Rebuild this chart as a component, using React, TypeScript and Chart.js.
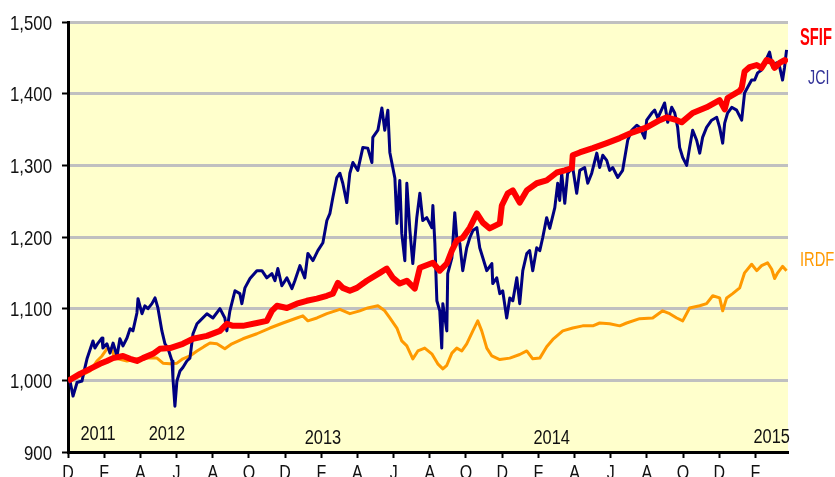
import React, { useEffect, useRef } from 'react';
import { Chart, registerables } from 'chart.js';

Chart.register(...registerables);

const FONT = "'Liberation Sans', Arial, sans-serif";

// x axis: months since first tick (Dec), a tick every 2 months
const monthTickPositions = [0, 2, 4, 6, 8, 10, 12, 14, 16, 18, 20, 22, 24, 26, 28, 30, 32, 34, 36, 38];
const monthTickLetters = ['D', 'F', 'A', 'J', 'A', 'O', 'D', 'F', 'A', 'J', 'A', 'O', 'D', 'F', 'A', 'J', 'A', 'O', 'D', 'F'];
const yTickValues = [900, 1000, 1100, 1200, 1300, 1400, 1500];

const yearLabels = ['2011', '2012', '2013', '2014', '2015'];
const yearLabelMonths = [1.66, 5.47, 14.09, 26.74, 38.9];
const yearLabelValues = [927, 927, 921, 921, 922];

const seriesNames = ['SFIF', 'JCI', 'IRDFI'];

const jciMonths = [
  0, 0.11, 0.28, 0.5, 0.77, 0.94, 1.05, 1.38, 1.49, 1.66, 1.88, 1.93, 2.15, 2.32, 2.49, 2.71, 2.87, 3.04, 3.26, 3.43,
  3.59, 3.81, 3.87, 4.09, 4.25, 4.42, 4.64, 4.81, 4.97, 5.19, 5.36, 5.52, 5.75, 5.8, 5.91, 6.02, 6.19, 6.35, 6.57, 6.74,
  6.91, 7.13, 7.29, 7.68, 8.01, 8.4, 8.67, 8.78, 8.95, 9.23, 9.5, 9.61, 9.78, 10.06, 10.44, 10.72, 10.99, 11.27, 11.44, 11.6,
  11.82, 12.1, 12.38, 12.54, 12.82, 13.09, 13.26, 13.54, 13.81, 14.09, 14.31, 14.48, 14.64, 14.86, 15.03, 15.19, 15.41, 15.58, 15.75, 16.02,
  16.3, 16.57, 16.8, 16.85, 17.13, 17.35, 17.51, 17.68, 17.79, 18.07, 18.18, 18.34, 18.45, 18.62, 18.73, 18.9, 19.06, 19.28, 19.45, 19.61,
  19.83, 20.11, 20.17, 20.28, 20.39, 20.55, 20.66, 20.72, 20.94, 20.99, 21.22, 21.38, 21.49, 21.66, 21.82, 22.04, 22.21, 22.38, 22.6, 22.76,
  22.93, 23.15, 23.43, 23.48, 23.7, 23.87, 24.03, 24.25, 24.42, 24.59, 24.81, 24.97, 25.14, 25.36, 25.52, 25.69, 25.91, 26.08, 26.24, 26.46,
  26.63, 26.91, 27.07, 27.18, 27.29, 27.46, 27.62, 27.9, 28.12, 28.29, 28.56, 28.73, 28.95, 29.23, 29.39, 29.56, 29.78, 29.94, 30.11, 30.39,
  30.66, 30.94, 31.16, 31.44, 31.6, 31.88, 31.99, 32.27, 32.43, 32.6, 32.87, 32.98, 33.15, 33.37, 33.54, 33.7, 33.81, 33.98, 34.2, 34.36,
  34.53, 34.75, 34.92, 35.08, 35.3, 35.58, 35.86, 36.02, 36.19, 36.3, 36.46, 36.69, 36.96, 37.24, 37.4, 37.57, 37.79, 37.96, 38.12, 38.34,
  38.51, 38.78, 38.95, 39.17, 39.34, 39.5, 39.61, 39.72,
];
const jciValues = [
  999, 999, 978, 997, 999, 1018, 1030, 1055, 1045, 1052, 1059, 1045, 1051, 1038, 1052, 1034, 1058, 1048, 1059, 1072,
  1069, 1094, 1114, 1093, 1104, 1100, 1107, 1115, 1101, 1069, 1051, 1045, 1027, 1003, 964, 999, 1013, 1018, 1027, 1031,
  1065, 1079, 1083, 1093, 1087, 1100, 1087, 1069, 1097, 1125, 1121, 1107, 1129, 1142, 1153, 1153, 1143, 1149, 1139, 1156,
  1132, 1143, 1128, 1139, 1160, 1143, 1177, 1167, 1181, 1192, 1223, 1233, 1255, 1283, 1289, 1275, 1248, 1289, 1304, 1293,
  1325, 1324, 1304, 1339, 1349, 1380, 1349, 1377, 1318, 1282, 1219, 1279, 1205, 1167, 1275, 1209, 1163, 1227, 1261, 1223,
  1227, 1213, 1244, 1191, 1111, 1097, 1045, 1107, 1069, 1149, 1171, 1234, 1199, 1191, 1153, 1185, 1199, 1209, 1213, 1185,
  1171, 1153, 1163, 1135, 1143, 1121, 1125, 1087, 1115, 1111, 1143, 1107, 1153, 1177, 1181, 1153, 1185, 1181, 1199, 1227,
  1212, 1241, 1275, 1251, 1289, 1247, 1289, 1297, 1261, 1293, 1297, 1275, 1289, 1317, 1297, 1314, 1307, 1293, 1297, 1283,
  1293, 1335, 1349, 1356, 1353, 1338, 1363, 1373, 1377, 1366, 1381, 1387, 1360, 1381, 1373, 1353, 1325, 1311, 1300, 1325,
  1349, 1335, 1317, 1339, 1353, 1363, 1367, 1353, 1331, 1359, 1373, 1381, 1377, 1363, 1401, 1409, 1419, 1419, 1429, 1433,
  1443, 1458, 1437, 1443, 1437, 1419, 1437, 1461,
];

const sfifMonths = [
  0, 0.66, 1.22, 1.77, 2.15, 2.49, 3.04, 3.43, 3.81, 4.14, 4.7, 5.08, 5.64, 6.35, 6.91, 7.68, 8.4, 8.78, 9.12, 9.67,
  10.44, 10.99, 11.27, 11.55, 12.1, 12.65, 13.2, 13.76, 14.31, 14.64, 14.92, 15.19, 15.58, 15.97, 16.52, 17.24, 17.62, 17.96, 18.34, 18.73,
  19.17, 19.45, 20.17, 20.55, 20.94, 21.22, 21.49, 21.82, 22.21, 22.6, 22.93, 23.31, 23.87, 23.98, 24.31, 24.59, 24.97, 25.36, 25.91, 26.46,
  27.02, 27.46, 27.85, 27.9, 28.29, 29.01, 29.78, 30.5, 31.22, 31.99, 32.71, 33.1, 33.65, 33.92, 34.53, 35.3, 36.02, 36.3, 36.46, 37.13,
  37.24, 37.4, 37.68, 38.07, 38.34, 38.62, 38.9, 39.06, 39.34, 39.61, 39.78,
];
const sfifValues = [
  999, 1009, 1016, 1023, 1027, 1031, 1034, 1030, 1027, 1031, 1037, 1044, 1045, 1051, 1058, 1062, 1069, 1079, 1076, 1076,
  1080, 1083, 1097, 1104, 1101, 1107, 1111, 1114, 1118, 1121, 1136, 1129, 1125, 1129, 1139, 1150, 1156, 1143, 1135, 1139,
  1128, 1157, 1164, 1153, 1163, 1181, 1195, 1199, 1213, 1233, 1220, 1212, 1219, 1244, 1261, 1265, 1248, 1265, 1275, 1279,
  1290, 1293, 1296, 1314, 1318, 1324, 1331, 1338, 1346, 1353, 1363, 1367, 1363, 1360, 1373, 1381, 1391, 1378, 1394, 1404,
  1408, 1431, 1437, 1440, 1436, 1447, 1444, 1436, 1443, 1447, 1444,
];

const irdfiMonths = [
  0, 0.66, 1.22, 1.6, 1.88, 2.15, 2.43, 2.54, 2.76, 3.26, 3.81, 4.36, 4.92, 5.25, 5.64, 6.02, 6.35, 6.74, 7.13, 7.51,
  7.85, 8.23, 8.67, 9.06, 9.67, 10.44, 11.16, 11.88, 12.65, 12.98, 13.26, 13.76, 14.31, 15.03, 15.58, 16.13, 16.57, 17.13, 17.51, 17.79,
  18.18, 18.45, 18.73, 19.06, 19.34, 19.72, 20.11, 20.44, 20.72, 20.94, 21.22, 21.49, 21.77, 22.04, 22.38, 22.65, 22.87, 23.15, 23.43, 23.87,
  24.42, 24.97, 25.36, 25.69, 26.08, 26.46, 26.8, 27.35, 27.9, 28.45, 29.01, 29.39, 29.94, 30.5, 30.88, 31.6, 32.32, 32.87, 33.26, 33.65,
  33.98, 34.36, 34.92, 35.3, 35.64, 36.02, 36.19, 36.41, 36.74, 37.13, 37.4, 37.79, 38.07, 38.34, 38.67, 38.9, 39.06, 39.23, 39.5, 39.72,
];
const irdfiValues = [
  999, 1006, 1013, 1027, 1034, 1044, 1044, 1034, 1030, 1027, 1030, 1031, 1031, 1024, 1023, 1024, 1030, 1034, 1041, 1047,
  1052, 1051, 1044, 1051, 1058, 1065, 1073, 1080, 1087, 1090, 1083, 1087, 1093, 1099, 1093, 1097, 1101, 1104, 1097, 1087,
  1073, 1055, 1048, 1030, 1041, 1045, 1037, 1023, 1016, 1021, 1038, 1045, 1041, 1051, 1069, 1083, 1069, 1045, 1034, 1029,
  1031, 1036, 1041, 1030, 1031, 1047, 1057, 1069, 1073, 1076, 1076, 1080, 1079, 1076, 1080, 1086, 1087, 1097, 1093, 1087,
  1083, 1101, 1104, 1107, 1118, 1115, 1097, 1115, 1121, 1129, 1150, 1162, 1153, 1160, 1164, 1155, 1142, 1150, 1159, 1153,
];

const seriesColors = ['#FF0000', '#000080', '#FF9900'];

const toPoints = (xs: number[], ys: number[]) => xs.map((x, i) => ({ x, y: ys[i] }));

// draw horizontally condensed text (imitating a condensed typeface)
function condensedText(ctx: any, text: string, x: number, y: number, sx: number, align: string) {
  ctx.save();
  ctx.translate(x, y);
  ctx.scale(sx, 1);
  ctx.textAlign = align;
  ctx.textBaseline = 'alphabetic';
  ctx.fillText(text, 0, 0);
  ctx.restore();
}

const backgroundPlugin = {
  id: 'plotBackground',
  beforeDraw(chart: any) {
    const { ctx, chartArea } = chart;
    ctx.save();
    ctx.fillStyle = '#FFFFCC';
    ctx.fillRect(chartArea.left, chartArea.top, chartArea.right - chartArea.left, chartArea.bottom - chartArea.top);
    ctx.restore();
  },
};

const textPlugin = {
  id: 'annotations',
  afterDraw(chart: any) {
    const { ctx, scales, chartArea } = chart;
    const xs = scales.x;
    const ys = scales.y;
    ctx.save();
    ctx.fillStyle = '#111111';

    // y tick labels
    ctx.font = `21px ${FONT}`;
    yTickValues.forEach((v) => {
      condensedText(ctx, v.toLocaleString('en-US'), chartArea.left - 16, ys.getPixelForValue(v) + 7.5, 0.8, 'right');
    });

    // x tick labels (month initials)
    ctx.font = `20px ${FONT}`;
    monthTickPositions.forEach((m, i) => {
      condensedText(ctx, monthTickLetters[i], xs.getPixelForValue(m), chartArea.bottom + 27, 0.8, 'center');
    });

    // year labels inside the plot
    ctx.font = `20px ${FONT}`;
    yearLabels.forEach((t, i) => {
      condensedText(ctx, t, xs.getPixelForValue(yearLabelMonths[i]), ys.getPixelForValue(yearLabelValues[i]) + 7, 0.82, 'center');
    });

    // series names at the right
    const lx = chartArea.right + 12;
    ctx.font = `bold 23px ${FONT}`;
    ctx.fillStyle = seriesColors[0];
    condensedText(ctx, seriesNames[0], lx, 45, 0.64, 'left');
    ctx.font = `21px ${FONT}`;
    ctx.fillStyle = '#333399';
    condensedText(ctx, seriesNames[1], lx + 8, 84, 0.68, 'left');
    ctx.fillStyle = seriesColors[2];
    condensedText(ctx, seriesNames[2], lx, 266, 0.7, 'left');
    ctx.restore();
  },
};

export default function App() {
  const ref = useRef<HTMLCanvasElement | null>(null);
  useEffect(() => {
    if (!ref.current) return;
    const chart = new Chart(ref.current, {
      type: 'line',
      data: {
        datasets: [
          {
            label: seriesNames[0],
            data: toPoints(sfifMonths, sfifValues),
            borderColor: seriesColors[0],
            borderWidth: 6,
            pointRadius: 0,
            tension: 0,
            borderJoinStyle: 'round',
            order: 0,
          },
          {
            label: seriesNames[1],
            data: toPoints(jciMonths, jciValues),
            borderColor: seriesColors[1],
            borderWidth: 3,
            pointRadius: 0,
            tension: 0,
            borderJoinStyle: 'round',
            order: 1,
          },
          {
            label: seriesNames[2],
            data: toPoints(irdfiMonths, irdfiValues),
            borderColor: seriesColors[2],
            borderWidth: 3,
            pointRadius: 0,
            tension: 0,
            borderJoinStyle: 'round',
            order: 2,
          },
        ],
      },
      options: {
        responsive: false,
        animation: false,
        events: [],
        layout: { padding: { left: 0, top: 22, right: 47, bottom: 0 } },
        plugins: { legend: { display: false }, tooltip: { enabled: false } },
        scales: {
          x: {
            type: 'linear',
            min: 0,
            max: 39.8,
            afterBuildTicks: (scale: any) => {
              scale.ticks = monthTickPositions.map((v) => ({ value: v }));
            },
            afterFit: (scale: any) => {
              scale.height = 25;
            },
            ticks: { display: false },
            grid: {
              drawOnChartArea: false,
              drawTicks: true,
              tickLength: 6,
              tickColor: '#000',
              tickWidth: 2,
            },
            border: { display: true, color: '#000', width: 3 },
          },
          y: {
            min: 900,
            max: 1500,
            afterBuildTicks: (scale: any) => {
              scale.ticks = yTickValues.map((v) => ({ value: v }));
            },
            afterFit: (scale: any) => {
              scale.width = 68;
            },
            ticks: { display: false },
            grid: {
              color: (c: any) => (c.tick && c.tick.value === 900 ? 'rgba(0,0,0,0)' : '#C0C0C0'),
              lineWidth: 3,
              drawTicks: true,
              tickLength: 6,
              tickColor: '#000',
              tickWidth: 2,
            },
            border: { display: true, color: '#000', width: 3 },
          },
        },
      },
      plugins: [backgroundPlugin, textPlugin],
    } as any);
    return () => chart.destroy();
  }, []);
  return (
    <canvas
      ref={ref}
      width={835}
      height={477}
      style={{ position: 'absolute', left: 0, top: 0, width: 835, height: 477, display: 'block' }}
    />
  );
}
